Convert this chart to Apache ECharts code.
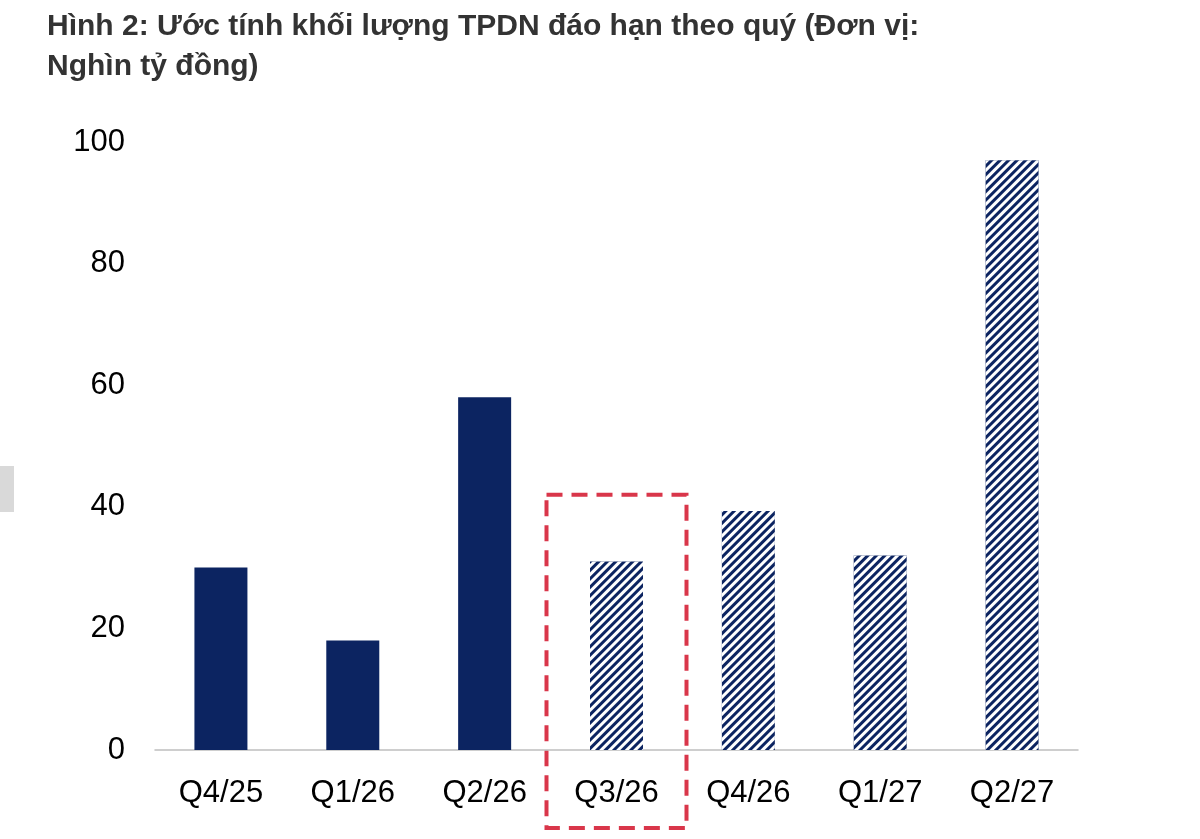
<!DOCTYPE html><html><head><meta charset="utf-8">
<script src="https://cdn.jsdelivr.net/npm/echarts@6/dist/echarts.min.js"></script>
<style>html,body{margin:0;background:#fff}#c{width:1200px;height:839px}</style></head><body><div id="c"></div>
<script>
const categories=['Q4/25','Q1/26','Q2/26','Q3/26','Q4/26','Q1/27','Q2/27'];
const values=[30,18,58,31,39.3,32,97];
const estimated=[false,false,false,true,true,true,true];
const yTicks={min:0,max:100,interval:20};
const navy='#0c2461';
const chart=echarts.init(document.getElementById('c'));
chart.setOption({
  animation:false,
  title:{text:'Hình 2: Ước tính khối lượng TPDN đáo hạn theo quý (Đơn vị:\nNghìn tỷ đồng)',left:42,top:2,
    textStyle:{fontFamily:'Liberation Sans',fontWeight:'bold',fontSize:30,color:'#333',lineHeight:40}},
  grid:{left:155,right:122,top:142,bottom:89},
  xAxis:{type:'category',data:categories,axisTick:{show:false},
    axisLine:{lineStyle:{color:'#bfbfbf',width:1.5}},
    axisLabel:{fontFamily:'Liberation Sans',fontSize:31,color:'#000',margin:28}},
  yAxis:{type:'value',min:yTicks.min,max:yTicks.max,interval:yTicks.interval,splitLine:{show:false},
    axisLabel:{fontFamily:'Liberation Sans',fontSize:31,color:'#000',margin:30}},
  series:[{type:'bar',barWidth:53,
    data:values.map((v,i)=>({value:v,itemStyle:estimated[i]?{color:navy,decal:{symbol:'rect',color:'#fff',dashArrayX:[1,0],dashArrayY:[3,3],rotation:-Math.PI/4}}:{color:navy}}))}]
});
const p=chart.convertToPixel({seriesIndex:0},['Q3/26',42]);
const bottom=828;
chart.setOption({graphic:[
  {type:'rect',shape:{x:p[0]-70,y:p[1],width:140,height:bottom-p[1]},style:{fill:'none',stroke:'#d9364a',lineWidth:4,lineDash:[16,9]}},
  {type:'rect',shape:{x:0,y:466,width:14,height:46},style:{fill:'#d9d9d9'}}
]});
</script></body></html>
